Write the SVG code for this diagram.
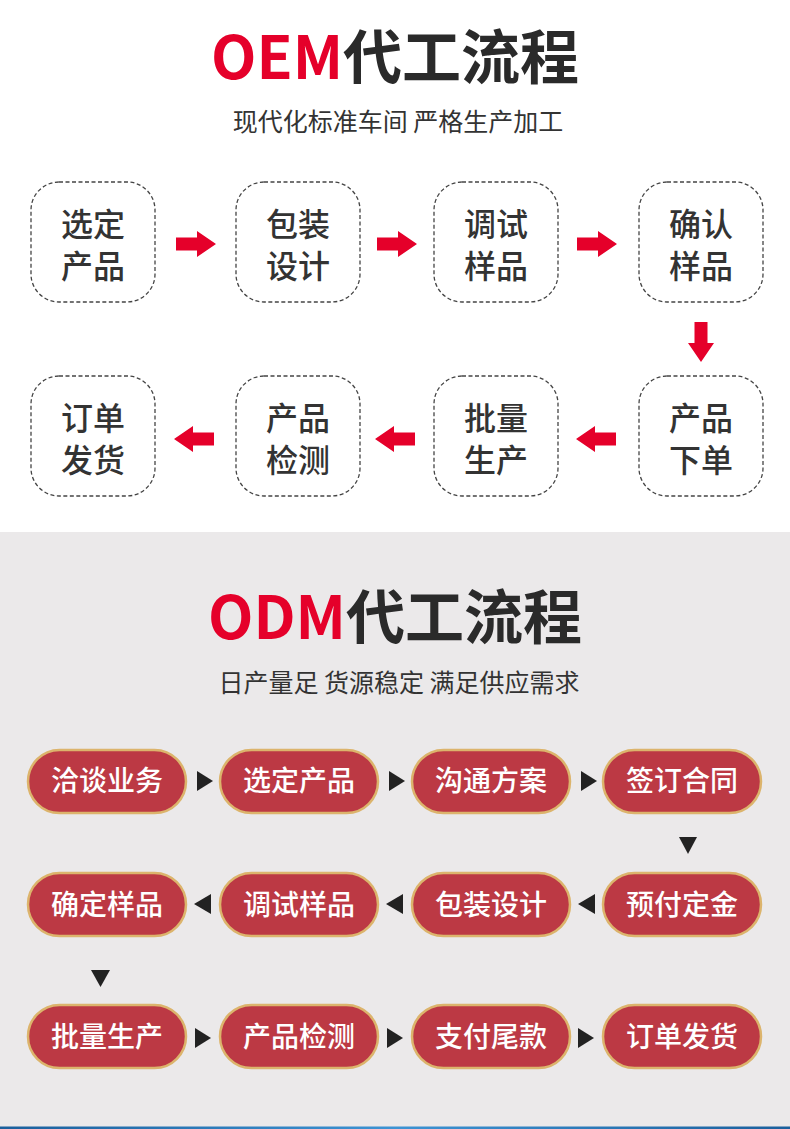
<svg xmlns="http://www.w3.org/2000/svg" width="790" height="1129" viewBox="0 0 790 1129">
<style>
.title{font-family:"Noto Sans CJK SC","Noto Sans",sans-serif;font-weight:700;font-size:59px;fill:#2a2a2a;text-anchor:middle}
.red{fill:#e5002a}
.sub{font-family:"Noto Sans CJK SC",sans-serif;font-weight:400;font-size:25px;fill:#333;text-anchor:middle}
.box{fill:#fff;stroke:#444;stroke-width:1.3;stroke-dasharray:4 2.5}
.bt{font-family:"Noto Sans CJK SC",sans-serif;font-weight:500;font-size:32px;fill:#333;text-anchor:middle}
.pill{fill:#bc3944;stroke:#dcb46c;stroke-width:2.5}
.pt{font-family:"Noto Sans CJK SC",sans-serif;font-weight:500;font-size:28px;fill:#fff;text-anchor:middle}
.tri{fill:#222}
.ra{fill:#e5002a}
</style>
<defs>
<path id="arr" d="M0,0 L-19,-13 L-19,-6.5 L-40,-6.5 L-40,6.5 L-19,6.5 L-19,13 Z"/>
<linearGradient id="blue" x1="0" y1="0" x2="1" y2="0">
<stop offset="0" stop-color="#1b5f9c"/>
<stop offset="0.5" stop-color="#3d93d3"/>
<stop offset="1" stop-color="#1b5f9c"/>
</linearGradient>
</defs>
<rect x="0" y="0" width="790" height="532" fill="#fff"/>
<rect x="0" y="532" width="790" height="597" fill="#ebe9ea"/>
<rect x="0" y="1126.5" width="790" height="2.5" fill="url(#blue)"/>

<text class="title" x="395" y="79"><tspan class="red">OEM</tspan>代工流程</text>
<text class="sub" x="398" y="131">现代化标准车间 严格生产加工</text>

<g id="oem1"><rect class="box" x="31" y="182" width="124" height="120" rx="28"/><text class="bt" x="93" y="236">选定</text><text class="bt" x="93" y="278">产品</text></g>
<g id="oem2"><rect class="box" x="236" y="182" width="124" height="120" rx="28"/><text class="bt" x="298" y="236">包装</text><text class="bt" x="298" y="278">设计</text></g>
<g id="oem3"><rect class="box" x="434" y="182" width="124" height="120" rx="28"/><text class="bt" x="496" y="236">调试</text><text class="bt" x="496" y="278">样品</text></g>
<g id="oem4"><rect class="box" x="639" y="182" width="124" height="120" rx="28"/><text class="bt" x="701" y="236">确认</text><text class="bt" x="701" y="278">样品</text></g>
<g id="oem5"><rect class="box" x="639" y="376" width="124" height="120" rx="28"/><text class="bt" x="701" y="430">产品</text><text class="bt" x="701" y="472">下单</text></g>
<g id="oem6"><rect class="box" x="434" y="376" width="124" height="120" rx="28"/><text class="bt" x="496" y="430">批量</text><text class="bt" x="496" y="472">生产</text></g>
<g id="oem7"><rect class="box" x="236" y="376" width="124" height="120" rx="28"/><text class="bt" x="298" y="430">产品</text><text class="bt" x="298" y="472">检测</text></g>
<g id="oem8"><rect class="box" x="31" y="376" width="124" height="120" rx="28"/><text class="bt" x="93" y="430">订单</text><text class="bt" x="93" y="472">发货</text></g>

<g id="oem-connectors" class="ra">
<use href="#arr" transform="translate(216,244)"/>
<use href="#arr" transform="translate(417,244)"/>
<use href="#arr" transform="translate(617,244)"/>
<use href="#arr" transform="translate(701,362) rotate(90)"/>
<use href="#arr" transform="translate(576,439) rotate(180)"/>
<use href="#arr" transform="translate(375,439) rotate(180)"/>
<use href="#arr" transform="translate(174,439) rotate(180)"/>
</g>

<text class="title" x="395" y="639"><tspan class="red">ODM</tspan>代工流程</text>
<text class="sub" x="399" y="692">日产量足 货源稳定 满足供应需求</text>

<g id="odm1"><rect class="pill" x="28" y="750" width="158" height="63" rx="31.5"/><text class="pt" x="107" y="791">洽谈业务</text></g>
<g id="odm2"><rect class="pill" x="220" y="750" width="158" height="63" rx="31.5"/><text class="pt" x="299" y="791">选定产品</text></g>
<g id="odm3"><rect class="pill" x="412" y="750" width="158" height="63" rx="31.5"/><text class="pt" x="491" y="791">沟通方案</text></g>
<g id="odm4"><rect class="pill" x="603" y="750" width="158" height="63" rx="31.5"/><text class="pt" x="682" y="791">签订合同</text></g>
<g id="odm5"><rect class="pill" x="603" y="873" width="158" height="63" rx="31.5"/><text class="pt" x="682" y="915">预付定金</text></g>
<g id="odm6"><rect class="pill" x="412" y="873" width="158" height="63" rx="31.5"/><text class="pt" x="491" y="915">包装设计</text></g>
<g id="odm7"><rect class="pill" x="220" y="873" width="158" height="63" rx="31.5"/><text class="pt" x="299" y="915">调试样品</text></g>
<g id="odm8"><rect class="pill" x="28" y="873" width="158" height="63" rx="31.5"/><text class="pt" x="107" y="915">确定样品</text></g>
<g id="odm9"><rect class="pill" x="28" y="1005" width="158" height="63" rx="31.5"/><text class="pt" x="107" y="1047">批量生产</text></g>
<g id="odm10"><rect class="pill" x="220" y="1005" width="158" height="63" rx="31.5"/><text class="pt" x="299" y="1047">产品检测</text></g>
<g id="odm11"><rect class="pill" x="412" y="1005" width="158" height="63" rx="31.5"/><text class="pt" x="491" y="1047">支付尾款</text></g>
<g id="odm12"><rect class="pill" x="603" y="1005" width="158" height="63" rx="31.5"/><text class="pt" x="682" y="1047">订单发货</text></g>

<g id="odm-connectors" class="tri">
<polygon points="197,771 213,781 197,791"/>
<polygon points="389,771 405,781 389,791"/>
<polygon points="581,771 597,781 581,791"/>
<polygon points="679,837 697,837 688,854"/>
<polygon points="595,894 578,904 595,914"/>
<polygon points="403,894 386,904 403,914"/>
<polygon points="211,894 194,904 211,914"/>
<polygon points="91,970 110,970 100.5,987"/>
<polygon points="195,1028 211,1038 195,1048"/>
<polygon points="387,1028 403,1038 387,1048"/>
<polygon points="578,1028 594,1038 578,1048"/>
</g>
</svg>
